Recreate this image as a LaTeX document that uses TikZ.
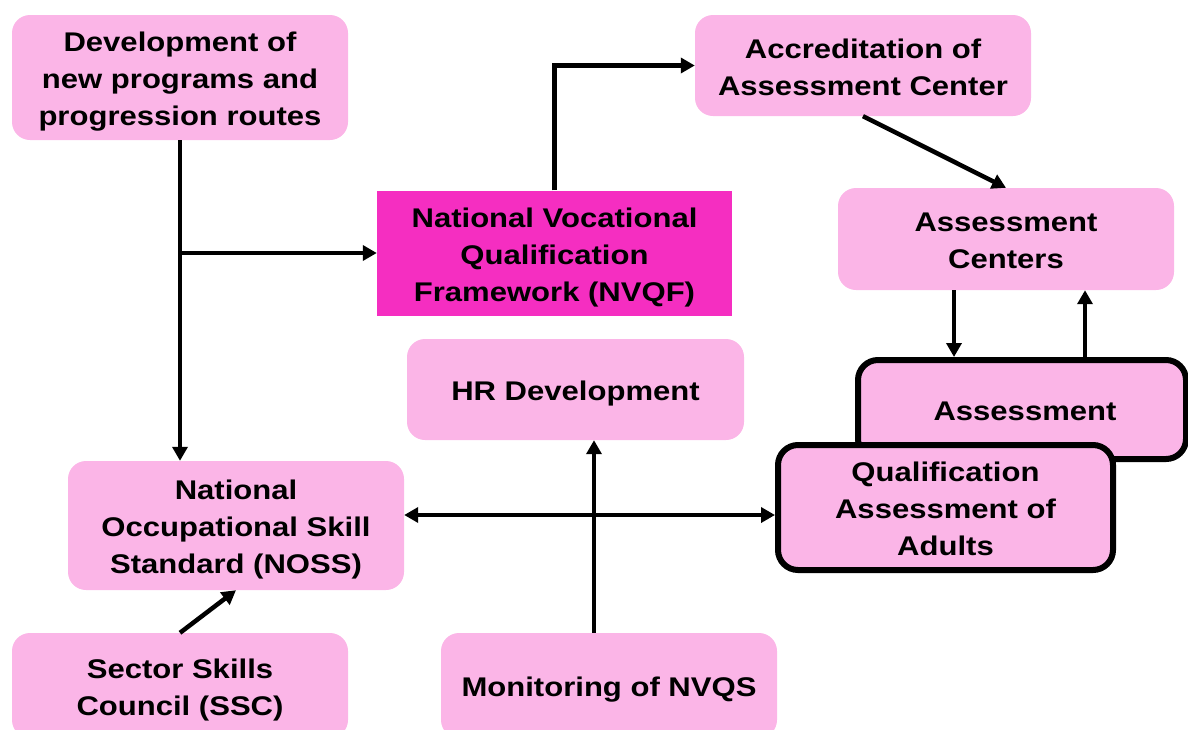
\documentclass[tikz,border=0pt]{standalone}
\usepackage{fontspec}
\setmainfont{Liberation Sans}[FakeStretch=1.15]
\usetikzlibrary{arrows.meta}
\definecolor{lpink}{HTML}{FBB5E7}
\definecolor{mag}{HTML}{F52EC1}
\newcommand\pstr{\rule[-5.7pt]{0pt}{33.6pt}}
\begin{document}
\begin{tikzpicture}[x=1pt,y=-1pt,
  lbox/.style={fill=lpink,rounded corners=18pt,align=center,inner sep=0pt,
    font=\bfseries\fontsize{27}{37}\selectfont},
  tbox/.style={lbox,draw=black,line width=6pt,rounded corners=20pt},
  arr/.style={line width=4.5pt,-{Triangle[length=14pt,width=15pt]}},
  arrb/.style={line width=4.5pt,{Triangle[length=14pt,width=15pt]}-{Triangle[length=14pt,width=15pt]}}]
\useasboundingbox (0,0) rectangle (1188,729);
\clip (0,0) rectangle (1188,729);
\node[lbox,minimum width=336pt,minimum height=125pt] (dev) at (180,77.5) {\pstr Development of\\new programs and\\\pstr progression routes};
\node[lbox,fill=mag,rounded corners=0pt,minimum width=355pt,minimum height=125pt] (nvqf) at (554.5,253) {\pstr National Vocational\\Qualification\\\pstr Framework (NVQF)};
\node[lbox,minimum width=336pt,minimum height=101pt] (accr) at (863,65.5) {\pstr Accreditation of\\\pstr Assessment Center};
\node[lbox,minimum width=336pt,minimum height=102pt] (ac) at (1006,239) {\pstr Assessment\\\pstr Centers};
\node[lbox,minimum width=337pt,minimum height=101pt] (hr) at (575.5,389.5) {\pstr HR Development};
\node[lbox,minimum width=336pt,minimum height=129pt] (noss) at (236,525.5) {\pstr National\\Occupational Skill\\\pstr Standard (NOSS)};
\node[tbox,minimum width=328pt,minimum height=99pt] (as) at (1022,409.5) {\pstr\hspace*{6pt}Assessment};
\node[tbox,minimum width=335pt,minimum height=125pt] (qaa) at (945.5,507.5) {\pstr Qualification\\Assessment of\\\pstr Adults};
\node[lbox,minimum width=336pt,minimum height=105pt] (ssc) at (180,685.5) {\pstr Sector Skills\\\pstr Council (SSC)};
\node[lbox,minimum width=336pt,minimum height=105pt] (mon) at (609,685.5) {\pstr Monitoring of NVQS};
\draw[arr] (dev.south) -- (dev.south |- noss.north);
\coordinate (br) at (dev.south |- nvqf.west);
\draw[arr] (br) -- (nvqf.west);
\draw[arr] (nvqf.north) |- (accr.west);
\draw[arr] (accr.south) -- (ac.north);
\coordinate (d1) at ([xshift=-52pt]ac.south);
\draw[arr] (d1) -- (d1 |- as.north);
\coordinate (u1) at ([xshift=79pt]ac.south);
\draw[arr] (u1 |- as.north) -- (u1);
\coordinate (m) at ([yshift=10.5pt]noss.east);
\draw[arrb] (m) -- (m -| qaa.west);
\coordinate (mt) at ([xshift=-15pt]mon.north);
\draw[arr] (mt) -- (mt |- hr.south);
\draw[arr] (ssc.north) -- (noss.south);
\end{tikzpicture}
\end{document}
